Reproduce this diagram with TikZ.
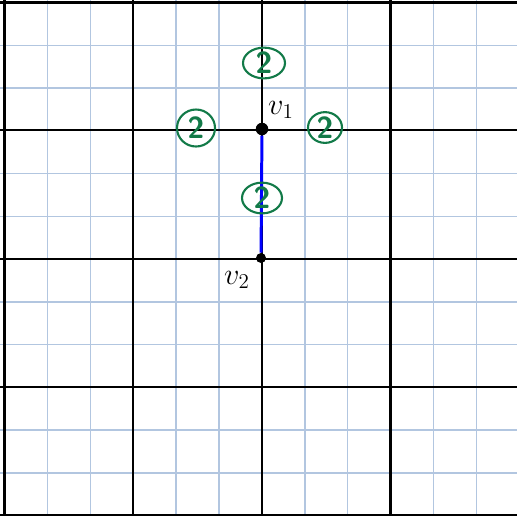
\documentclass[tikz,border=0pt]{standalone}
\usepackage{tikz}
\usetikzlibrary{shapes.geometric}
\definecolor{gridblue}{RGB}{178,198,224}
\definecolor{handgreen}{RGB}{18,122,72}

\begin{document}
\begin{tikzpicture}[
  minorline/.style={gridblue,line width=0.85pt},
  majorline/.style={black,line width=1.3pt},
  vertexdot/.style={circle,fill=black,inner sep=0pt,minimum size=0.2cm},
  vlabel/.style={font=\LARGE},
  weight/.style={ellipse,draw=handgreen,text=handgreen,line width=1.2pt,inner sep=0pt,
    minimum width=0.80cm,minimum height=0.60cm,font=\LARGE\sffamily\bfseries}]
\useasboundingbox (0.000,0.000) rectangle (10.340,-10.320);
% fine grid
\draw[minorline] (0.948,0.000) -- (0.948,-10.320);
\draw[minorline] (1.806,0.000) -- (1.806,-10.320);
\draw[minorline] (3.522,0.000) -- (3.522,-10.320);
\draw[minorline] (4.380,0.000) -- (4.380,-10.320);
\draw[minorline] (6.096,0.000) -- (6.096,-10.320);
\draw[minorline] (6.954,0.000) -- (6.954,-10.320);
\draw[minorline] (8.670,0.000) -- (8.670,-10.320);
\draw[minorline] (9.528,0.000) -- (9.528,-10.320);
\draw[minorline] (0.000,-0.905) -- (10.340,-0.905);
\draw[minorline] (0.000,-1.760) -- (10.340,-1.760);
\draw[minorline] (0.000,-3.470) -- (10.340,-3.470);
\draw[minorline] (0.000,-4.325) -- (10.340,-4.325);
\draw[minorline] (0.000,-6.035) -- (10.340,-6.035);
\draw[minorline] (0.000,-6.890) -- (10.340,-6.890);
\draw[minorline] (0.000,-8.600) -- (10.340,-8.600);
\draw[minorline] (0.000,-9.455) -- (10.340,-9.455);
% coarse grid
\draw[majorline] (0.090,0.000) -- (0.090,-10.320);
\draw[majorline] (2.664,0.000) -- (2.664,-10.320);
\draw[majorline] (5.238,0.000) -- (5.238,-10.320);
\draw[majorline] (7.812,0.000) -- (7.812,-10.320);
\draw[majorline] (0.000,-0.050) -- (10.340,-0.050);
\draw[majorline] (0.000,-2.600) -- (10.340,-2.600);
\draw[majorline] (0.000,-5.180) -- (10.340,-5.180);
\draw[majorline] (0.000,-7.745) -- (10.340,-7.745);
\draw[majorline] (0.000,-10.300) -- (10.340,-10.300);
% vertices and edge
\node[vertexdot,minimum size=0.25cm] (v1) at (5.240,-2.580) {};
\node[vertexdot] (v2) at (5.220,-5.160) {};
\draw[blue,line width=1.7pt] (v1) -- (v2);
\node[vlabel] (v1text) at (5.620,-2.200) {$v_1$};
\node[vlabel] (v2text) at (4.740,-5.600) {$v_2$};
% weights
\node[weight,minimum width=0.84cm] (wup) at (5.280,-1.260) {2};
\node[weight,minimum width=0.76cm,minimum height=0.74cm] (wleft) at (3.920,-2.560) {2};
\node[weight,minimum width=0.68cm,minimum height=0.50cm] (wright) at (6.500,-2.550) {2};
\node[weight] (wedge) at (5.240,-3.960) {2};
\end{tikzpicture}
\end{document}
